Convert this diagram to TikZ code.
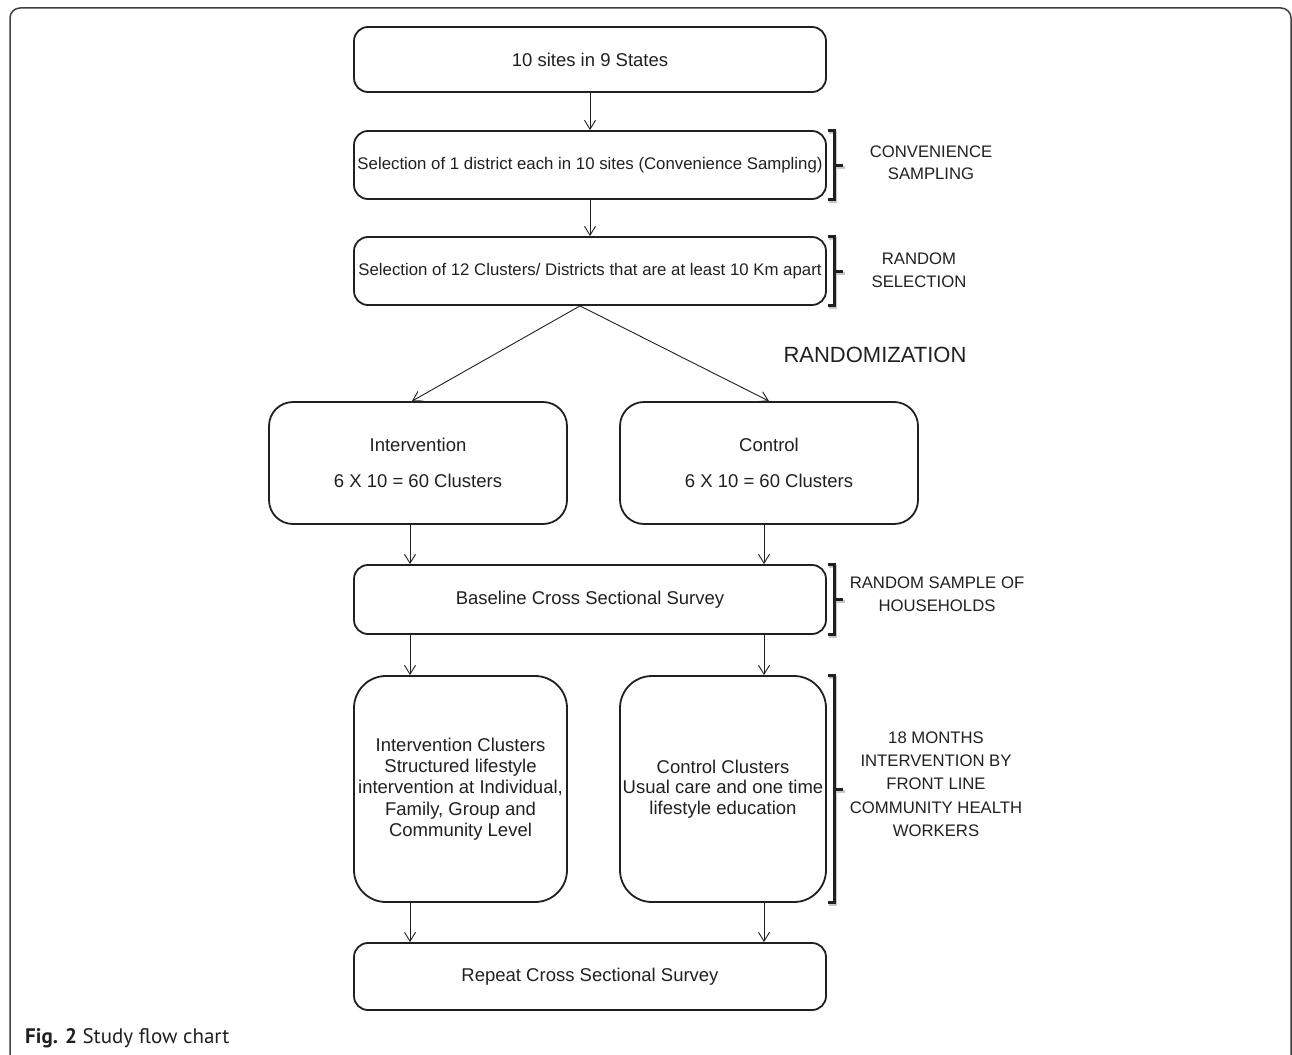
\documentclass[tikz,border=0pt]{standalone}
\usepackage{fontspec}
\setmainfont{Liberation Sans}
\newfontfamily\capfont{PT Sans}
\usetikzlibrary{arrows.meta,calc}
\definecolor{ink}{RGB}{35,31,32}
\newcommand\mybrk[1]{%
  \begin{scope}[transform canvas={shift={(1.5pt,-2pt)}}]
    \draw[brk,black!22] ([xshift=1pt]#1.north east) -- ++(6.5,0) |- ([xshift=1pt]#1.south east);
    \draw[brk,black!22] ([xshift=7.5pt]#1.east) -- ++(9,0);
  \end{scope}
  \draw[brk] ([xshift=1pt]#1.north east) -- ++(6.5,0) |- ([xshift=1pt]#1.south east);
  \draw[brk] ([xshift=7.5pt]#1.east) -- ++(9,0);
}
\begin{document}
\begin{tikzpicture}[x=1pt,y=-1pt,
  box/.style={draw=ink, line width=1.8pt, rounded corners=14pt, inner sep=0pt, align=center, text=ink},
  bigt/.style={font=\fontsize{18.5}{22}\selectfont},
  smallt/.style={font=\fontsize{16.8}{20}\selectfont},
  arr/.style={draw=ink, line width=0.9pt, -{Straight Barb[length=9pt,width=11pt]}},
  brk/.style={draw=ink, line width=3pt},
  lbl/.style={text=ink, align=center, inner sep=0pt, font=\fontsize{16.7}{22.5}\selectfont}]
\useasboundingbox (0,0) rectangle (1292,1054);

% outer frame
\draw[black!75, line width=1.5pt, rounded corners=10pt] (10,1060) -- (10,8) -- (1291,8) -- (1291,1060);

% boxes
\node[box, bigt, minimum width=472pt, minimum height=65pt] (b1) at (590,59.5) {10 sites in 9 States};
\node[box, smallt, minimum width=472pt, minimum height=68pt] (b2) at (590,165) {Selection of 1 district each in 10 sites (Convenience Sampling)};
\node[box, smallt, minimum width=472pt, minimum height=68pt] (b3) at (590,271) {Selection of 12 Clusters/ Districts that are at least 10 Km apart};
\node[box, bigt, rounded corners=24pt, minimum width=298pt, minimum height=122pt] (int) at (418,463) {Intervention\\[14pt]6 X 10 = 60 Clusters};
\node[box, bigt, rounded corners=24pt, minimum width=298pt, minimum height=122pt] (ctl) at (769,463) {Control\\[14pt]6 X 10 = 60 Clusters};
\node[box, bigt, minimum width=472pt, minimum height=69pt] (base) at (590,599.5) {Baseline Cross Sectional Survey};
\node[box, font=\fontsize{18.5}{21.3}\selectfont, rounded corners=32pt, minimum width=213pt, minimum height=226pt] (ic) at (460.5,789) {Intervention Clusters\\Structured lifestyle\\intervention at Individual,\\Family, Group and\\Community Level};
\node[box, font=\fontsize{18.5}{20.6}\selectfont, rounded corners=32pt, minimum width=206pt, minimum height=226pt] (cc) at (723,789) {Control Clusters\\Usual care and one time\\lifestyle education};
\node[box, bigt, minimum width=472pt, minimum height=67pt] (rep) at (590,976.5) {Repeat Cross Sectional Survey};

% connectors
\draw[arr] (b1.south) -- (b2.north);
\draw[arr] (b2.south) -- (b3.north);
\coordinate (apex) at ([xshift=-10pt]b3.south);
\draw[arr] (apex) -- ([xshift=-6pt]int.north);
\draw[arr] (apex) -- (ctl.north);
\coordinate (L) at (410,0);
\coordinate (R) at (764,0);
\draw[arr] (int.south -| L) -- (base.north -| L);
\draw[arr] (ctl.south -| R) -- (base.north -| R);
\draw[arr] (base.south -| L) -- (ic.north -| L);
\draw[arr] (base.south -| R) -- (cc.north -| R);
\draw[arr] (ic.south -| L) -- (rep.north -| L);
\draw[arr] (cc.south -| R) -- (rep.north -| R);

% brackets
\mybrk{b2}
\mybrk{b3}
\mybrk{base}
\mybrk{cc}

% side labels
\node[lbl] (l1) at (931,163) {CONVENIENCE\\SAMPLING};
\node[lbl] (l2) at (919,270) {RANDOM\\SELECTION};
\node[lbl, font=\fontsize{22}{26}\selectfont] (l3) at (875,355) {RANDOMIZATION};
\node[lbl] (l4) at (937,594) {RANDOM SAMPLE OF\\HOUSEHOLDS};
\node[lbl, font=\fontsize{16.7}{23.3}\selectfont] (l5) at (936,784) {18 MONTHS\\INTERVENTION BY\\FRONT LINE\\COMMUNITY HEALTH\\WORKERS};

% caption
\node[anchor=base west, inner sep=0pt, text=ink, font=\capfont\fontsize{21}{24}\selectfont] (cap) at (25,1043) {\textbf{Fig. 2} Study flow chart};
\end{tikzpicture}
\end{document}
